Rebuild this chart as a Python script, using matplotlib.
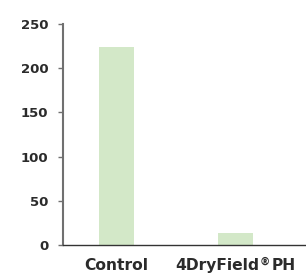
import matplotlib
matplotlib.use("Agg")
import matplotlib.pyplot as plt
from matplotlib.transforms import offset_copy

categories = ["Control", "4DryField®PH"]
values = [224, 13]
y_ticks = [0, 50, 100, 150, 200, 250]

plt.rcParams["font.family"] = ["DejaVu Sans"]
plt.rcParams["font.weight"] = "bold"

fig = plt.figure(figsize=(3.06, 2.73), dpi=100)
ax = fig.add_axes([0.206, 0.1026, 0.794, 0.8095])

ax.bar(range(len(categories)), values, width=0.294, color="#d3e8c8")

ax.set_xlim(-0.45, 1.59)
ax.set_ylim(0, 250)
ax.set_yticks(y_ticks)
ax.set_xticks(range(len(categories)))
ax.set_xticklabels([])

for s in ["top", "right"]:
    ax.spines[s].set_visible(False)
ax.spines["left"].set_color("#707070")
ax.spines["left"].set_linewidth(1.5)
ax.spines["bottom"].set_color("#333333")
ax.spines["bottom"].set_linewidth(1.0)

ax.tick_params(axis="y", length=3.6, width=1.0, color="#707070", pad=7,
               labelsize=9.5, labelcolor="#2b2b2b")
ax.tick_params(axis="x", length=0)

# x labels drawn by hand so the ® can sit raised and small
fig.canvas.draw()
renderer = fig.canvas.get_renderer()
base = ax.get_xaxis_transform()
for i, cat in enumerate(categories):
    parts = cat.split("®")
    pieces = [(parts[0], 11.2, 0.0, 0.0)]
    if len(parts) > 1:
        pieces += [("®", 7.5, 3.8, 1.5), (parts[1], 11.2, 0.0, 0.0)]
    texts = [ax.text(i, 0, s, fontsize=fs, color="#2b2b2b", fontweight="bold",
                     ha="left", va="baseline", transform=base)
             for s, fs, _, _ in pieces]
    widths = [t.get_window_extent(renderer).width * 72 / fig.dpi + gap
              for t, (_, _, _, gap) in zip(texts, pieces)]
    x = -sum(widths) / 2
    for t, w, (_, _, dy, _) in zip(texts, widths, pieces):
        t.set_transform(offset_copy(base, fig, x=x, y=-18 + dy, units="points"))
        x += w

fig.savefig("out.png", dpi=100)
